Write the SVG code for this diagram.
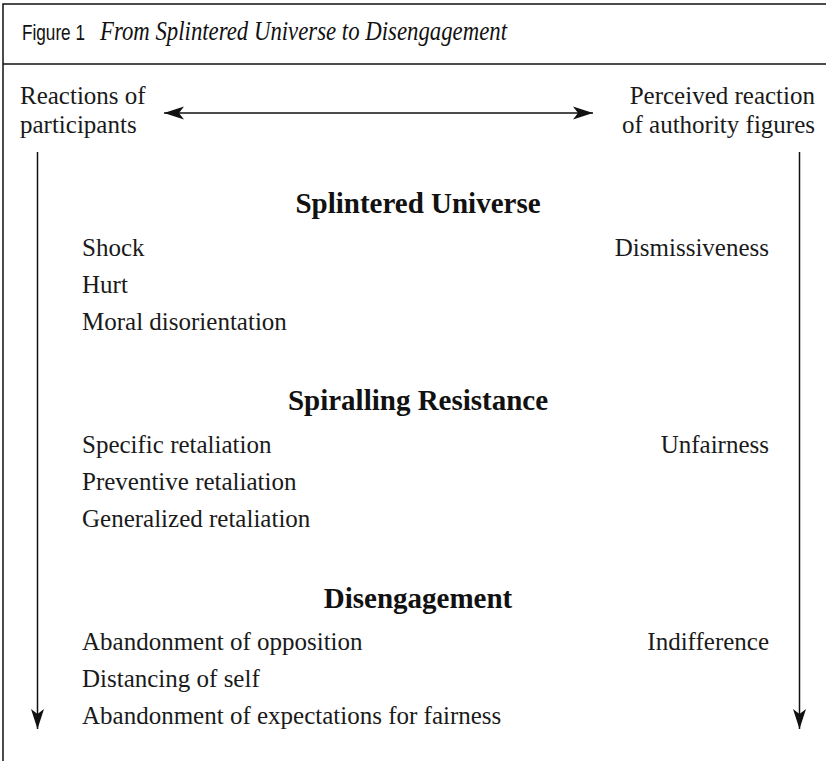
<svg xmlns="http://www.w3.org/2000/svg" width="826" height="761" viewBox="0 0 826 761">
<style>
.t{font-family:"Liberation Serif","Times New Roman",serif;font-size:25px;fill:#1a1a1a}
.h{font-family:"Liberation Serif","Times New Roman",serif;font-size:29px;font-weight:bold;fill:#111;text-anchor:middle}
.r{text-anchor:end}
.ln{stroke:#111;stroke-width:1.5;fill:none}
</style>
<defs>
<marker id="ah" markerUnits="userSpaceOnUse" markerWidth="22" markerHeight="14" refX="20" refY="7" orient="auto-start-reverse" viewBox="0 0 22 14">
<path d="M0,0.5 L20,7 L0,13.5 L5,7 Z" fill="#111"/>
</marker>
</defs>
<g id="frame">
<path class="ln" d="M3,761 V4 H826"/>
<line class="ln" x1="3" y1="64" x2="826" y2="64"/>
</g>
<g id="title">
<text x="22" y="40" font-family="'Liberation Sans',Arial,sans-serif" font-size="22" fill="#111" textLength="63" lengthAdjust="spacingAndGlyphs">Figure 1</text>
<text x="100" y="40" font-family="'Liberation Serif','Times New Roman',serif" font-size="28" font-style="italic" fill="#111" textLength="407" lengthAdjust="spacingAndGlyphs">From Splintered Universe to Disengagement</text>
</g>
<g id="connectors">
<line class="ln" x1="164" y1="113" x2="593" y2="113" marker-start="url(#ah)" marker-end="url(#ah)"/>
<line class="ln" x1="37.5" y1="152" x2="37.5" y2="729" marker-end="url(#ah)"/>
<line class="ln" x1="799.5" y1="152" x2="799.5" y2="729" marker-end="url(#ah)"/>
</g>
<g id="participants">
<text class="t" x="20" y="104">Reactions of</text>
<text class="t" x="20" y="133">participants</text>
</g>
<g id="authority">
<text class="t r" x="815" y="104">Perceived reaction</text>
<text class="t r" x="815" y="133">of authority figures</text>
</g>
<g id="splintered-universe">
<text class="h" x="418" y="213">Splintered Universe</text>
<text class="t" x="82" y="256">Shock</text>
<text class="t" x="82" y="293">Hurt</text>
<text class="t" x="82" y="330">Moral disorientation</text>
<text class="t r" x="769" y="256">Dismissiveness</text>
</g>
<g id="spiralling-resistance">
<text class="h" x="418" y="410">Spiralling Resistance</text>
<text class="t" x="82" y="453">Specific retaliation</text>
<text class="t" x="82" y="490">Preventive retaliation</text>
<text class="t" x="82" y="527">Generalized retaliation</text>
<text class="t r" x="769" y="453">Unfairness</text>
</g>
<g id="disengagement">
<text class="h" x="418" y="608">Disengagement</text>
<text class="t" x="82" y="650">Abandonment of opposition</text>
<text class="t" x="82" y="687">Distancing of self</text>
<text class="t" x="82" y="724">Abandonment of expectations for fairness</text>
<text class="t r" x="769" y="650">Indifference</text>
</g>
</svg>
